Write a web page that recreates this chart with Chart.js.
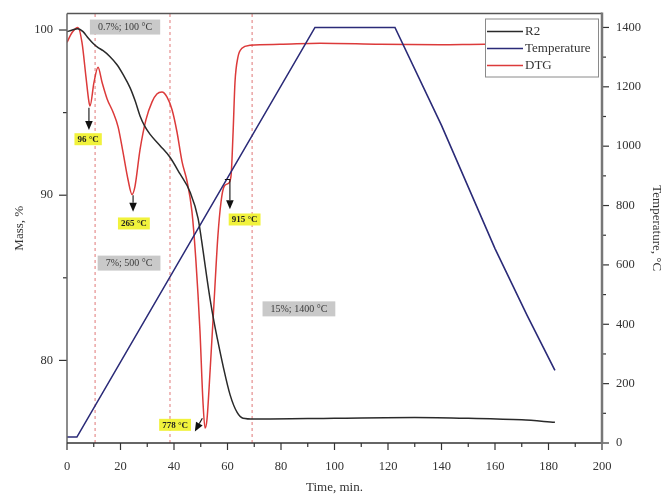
<!DOCTYPE html>
<html>
<head>
<meta charset="utf-8">
<script src="https://cdn.jsdelivr.net/npm/chart.js@4/dist/chart.umd.min.js"></script>
<style>
  html, body { margin: 0; padding: 0; background: #ffffff; }
  #wrap { width: 664px; height: 501px; }
</style>
</head>
<body>
<div id="wrap"><canvas id="c" width="664" height="501"></canvas></div>
<script>
// Thermogravimetric run of sample R2: residual mass, furnace temperature and DTG against time.

// Residual mass, %
const massTime   = [0, 2, 4, 6, 8, 9.7, 11.5, 13.5, 16, 18.7, 21, 23.6, 25.5, 27.3, 29, 31, 34.8, 38.5, 42.2, 46, 49, 50.9, 52.2, 53.5, 55, 56.1, 58.3, 61, 63.6, 65.8, 70, 100, 130, 150, 170, 182.4];
const massValues = [99.9, 100.0, 100.08, 99.9, 99.5, 99.2, 98.95, 98.75, 98.4, 97.9, 97.3, 96.5, 95.7, 94.8, 94.2, 93.7, 93.0, 92.3, 91.3, 90.2, 88.6, 86.6, 85.1, 83.7, 82.3, 81.4, 79.7, 77.9, 76.85, 76.5, 76.45, 76.5, 76.55, 76.5, 76.4, 76.25];

// Furnace temperature, °C
const tempTime   = [0, 3.7, 92.7, 122.6, 140, 160, 172, 182.4];
const tempValues = [20, 20, 1400, 1400, 1070, 655, 430, 245];

// Mass-loss rate (DTG), %/min
const dtgTime   = [0, 1.9, 4.1, 5.6, 7.1, 8.2, 8.6, 10.1, 11.6, 13.1, 15.0, 17.2, 19.1, 20.9, 22.8, 24.3, 25.4, 27.3, 29.5, 31.8, 33.6, 35.5, 37.4, 39.3, 41.1, 43.0, 44.9, 46.7, 48.2, 49.7, 50.8, 51.6, 52.3, 53.5, 55.0, 56.4, 57.6, 58.7, 60.2, 61.3, 62.1, 62.8, 63.9, 65.4, 68.4, 79.6, 94.6, 117, 139.4, 156.3, 182.4];
const dtgValues = [-0.014, 0.025, 0.045, -0.014, -0.152, -0.250, -0.266, -0.172, -0.113, -0.172, -0.238, -0.290, -0.349, -0.447, -0.557, -0.616, -0.585, -0.439, -0.321, -0.250, -0.219, -0.211, -0.231, -0.282, -0.368, -0.486, -0.565, -0.683, -0.880, -1.155, -1.431, -1.541, -1.510, -1.313, -1.037, -0.782, -0.644, -0.585, -0.573, -0.545, -0.368, -0.172, -0.073, -0.038, -0.026, -0.022, -0.018, -0.022, -0.024, -0.022, -0.024];

// Stage boundaries and their captions
const stageTimes  = [10.5, 38.5, 69.2];
const stageLabels = ['0.7%; 100 °C', '7%; 500 °C', '15%; 1400 °C'];

// DTG peak captions
const peakLabels = ['96 °C', '265 °C', '778 °C', '915 °C'];

// Tick labels
const timeTicks = [0, 20, 40, 60, 80, 100, 120, 140, 160, 180, 200];
const massTicks = [80, 90, 100];
const tempTicks = [0, 200, 400, 600, 800, 1000, 1200, 1400];

// Where captions sit, in (time, mass %) units
const stageBoxAt = [[21.7, 100.18], [23.2, 85.89], [86.7, 83.12]];
const peakMarks = [
  { arrow: [[8.2, 95.3], [8.2, 93.95]],               box: [7.9, 93.39] },
  { arrow: [[24.7, 90.0], [24.7, 89.0]],              box: [25.0, 88.29] },
  { arrow: [[50.6, 76.5], [47.8, 75.7]],              box: [40.4, 76.1] },
  { arrow: [[59.0, 90.95], [60.9, 90.95], [60.9, 89.15]], box: [66.4, 88.53] }
];

const SERIF = '"Liberation Serif", "Times New Roman", serif';
const INK = '#333333';

const stageLineSets = stageTimes.map(t => ({
  label: '',
  data: [{ x: t, y: 75 }, { x: t, y: 101 }],
  yAxisID: 'yMass',
  borderColor: 'rgba(222, 110, 110, 0.85)',
  borderWidth: 1.1,
  borderDash: [3, 3],
  pointRadius: 0,
  inLegend: false
}));

const zip = (xs, ys) => xs.map((x, i) => ({ x, y: ys[i] }));

const datasets = [
  {
    label: 'R2',
    data: zip(massTime, massValues),
    yAxisID: 'yMass',
    borderColor: '#2a2a2a',
    borderWidth: 1.5,
    pointRadius: 0,
    cubicInterpolationMode: 'monotone',
    inLegend: true
  },
  {
    label: 'Temperature',
    data: zip(tempTime, tempValues),
    yAxisID: 'yTemp',
    borderColor: '#2b2b78',
    borderWidth: 1.6,
    pointRadius: 0,
    tension: 0,
    inLegend: true
  },
  {
    label: 'DTG',
    data: zip(dtgTime, dtgValues),
    yAxisID: 'yDtg',
    borderColor: '#dc3a3a',
    borderWidth: 1.5,
    pointRadius: 0,
    cubicInterpolationMode: 'monotone',
    inLegend: true
  },
  ...stageLineSets
];

// Outward tick marks (major + minor) and the frame round the plot area
const frameTicks = {
  id: 'frameTicks',
  afterDatasetsDraw(chart) {
    const { ctx, chartArea: a, scales } = chart;
    ctx.save();
    ctx.strokeStyle = INK;
    ctx.lineWidth = 1.2;
    const tick = (x1, y1, x2, y2) => { ctx.beginPath(); ctx.moveTo(x1, y1); ctx.lineTo(x2, y2); ctx.stroke(); };
    for (let v = 0; v <= 200; v += 10) {
      const p = scales.x.getPixelForValue(v);
      tick(p, a.bottom, p, a.bottom + (v % 20 === 0 ? 7 : 4));
    }
    for (let v = 80; v <= 100; v += 5) {
      const p = scales.yMass.getPixelForValue(v);
      tick(a.left, p, a.left - (v % 10 === 0 ? 8 : 4), p);
    }
    for (let v = 0; v <= 1400; v += 100) {
      const p = scales.yTemp.getPixelForValue(v);
      tick(a.right, p, a.right + (v % 200 === 0 ? 7 : 4), p);
    }
    // frame
    ctx.strokeStyle = '#555555';
    ctx.lineWidth = 1.5;
    tick(a.left, a.top, a.right, a.top);
    ctx.strokeStyle = '#666666';
    tick(a.left, a.top, a.left, a.bottom);
    ctx.strokeStyle = '#333333';
    tick(a.left, a.bottom, a.right, a.bottom);
    ctx.strokeStyle = '#777777';
    ctx.lineWidth = 2.5;
    tick(a.right, a.top - 1, a.right, a.bottom + 1);
    ctx.restore();
  }
};

// Stage captions, peak arrows and peak captions
const captions = {
  id: 'captions',
  afterDatasetsDraw(chart) {
    const { ctx, scales } = chart;
    const X = t => scales.x.getPixelForValue(t);
    const Y = m => scales.yMass.getPixelForValue(m);
    ctx.save();
    ctx.textAlign = 'center';
    ctx.textBaseline = 'middle';

    // grey stage boxes
    ctx.font = '10px ' + SERIF;
    stageLabels.forEach((txt, i) => {
      const cx = X(stageBoxAt[i][0]), cy = Y(stageBoxAt[i][1]);
      const w = ctx.measureText(txt).width + 16, h = 15;
      ctx.fillStyle = '#c9c9c9';
      ctx.fillRect(cx - w / 2, cy - h / 2, w, h);
      ctx.fillStyle = '#3a3a3a';
      ctx.fillText(txt, cx, cy + 0.5);
    });

    // arrows
    peakMarks.forEach(m => {
      const pts = m.arrow.map(p => [X(p[0]), Y(p[1])]);
      const n = pts.length;
      const [tx, ty] = pts[n - 1];
      const [px, py] = pts[n - 2];
      const ang = Math.atan2(ty - py, tx - px);
      const hl = 9, hw = 3.8;
      const bx = tx - hl * Math.cos(ang), by = ty - hl * Math.sin(ang);
      ctx.strokeStyle = '#111111';
      ctx.lineWidth = 1.1;
      ctx.beginPath();
      ctx.moveTo(pts[0][0], pts[0][1]);
      for (let k = 1; k < n - 1; k++) ctx.lineTo(pts[k][0], pts[k][1]);
      ctx.lineTo(bx, by);
      ctx.stroke();
      ctx.fillStyle = '#111111';
      ctx.beginPath();
      ctx.moveTo(tx, ty);
      ctx.lineTo(bx + hw * Math.sin(ang), by - hw * Math.cos(ang));
      ctx.lineTo(bx - hw * Math.sin(ang), by + hw * Math.cos(ang));
      ctx.closePath();
      ctx.fill();
    });

    // yellow peak captions
    ctx.font = 'bold 9px ' + SERIF;
    peakLabels.forEach((txt, i) => {
      const cx = X(peakMarks[i].box[0]), cy = Y(peakMarks[i].box[1]);
      const w = ctx.measureText(txt).width + 6, h = 12;
      ctx.fillStyle = '#f1f23c';
      ctx.fillRect(cx - w / 2, cy - h / 2, w, h);
      ctx.fillStyle = '#222222';
      ctx.fillText(txt, cx, cy + 0.5);
    });
    ctx.restore();
  }
};

// Boxed legend in the upper right corner of the plot
const boxLegend = {
  id: 'boxLegend',
  afterDraw(chart) {
    const { ctx, chartArea: a } = chart;
    const items = chart.data.datasets.filter(d => d.inLegend);
    const w = 113, h = 58;
    const x0 = a.right - 4 - w, y0 = a.top + 5;
    ctx.save();
    ctx.fillStyle = '#ffffff';
    ctx.fillRect(x0, y0, w, h);
    ctx.strokeStyle = '#8a8a8a';
    ctx.lineWidth = 1;
    ctx.strokeRect(x0 + 0.5, y0 + 0.5, w, h);
    ctx.font = '13px ' + SERIF;
    ctx.textBaseline = 'middle';
    ctx.textAlign = 'left';
    items.forEach((d, i) => {
      const yy = y0 + 13 + i * 17;
      ctx.strokeStyle = d.borderColor;
      ctx.lineWidth = 1.6;
      ctx.beginPath();
      ctx.moveTo(x0 + 2, yy);
      ctx.lineTo(x0 + 38, yy);
      ctx.stroke();
      ctx.fillStyle = INK;
      ctx.fillText(d.label, x0 + 40, yy + 0.5);
    });
    ctx.restore();
  }
};

const tickFont = { family: SERIF, size: 12.5 };
const titleFont = { family: SERIF, size: 13 };
const plain = v => String(v);

new Chart(document.getElementById('c'), {
  type: 'line',
  data: { datasets },
  options: {
    responsive: false,
    devicePixelRatio: 1,
    animation: false,
    layout: { padding: { top: 11, left: 0, right: 0, bottom: 0 } },
    plugins: { legend: { display: false }, tooltip: { enabled: false } },
    scales: {
      x: {
        type: 'linear', min: 0, max: 200,
        afterBuildTicks: s => { s.ticks = timeTicks.map(v => ({ value: v })); },
        afterFit: s => { s.height = 58; },
        grid: { display: false }, border: { display: false },
        ticks: { font: tickFont, color: INK, padding: 8, maxRotation: 0, callback: plain },
        title: { display: true, text: 'Time, min.', font: titleFont, color: INK, padding: { top: 0, bottom: 6 } }
      },
      yMass: {
        type: 'linear', position: 'left', min: 75, max: 101,
        afterBuildTicks: s => { s.ticks = massTicks.map(v => ({ value: v })); },
        afterFit: s => { s.width = 67; },
        grid: { display: false }, border: { display: false },
        ticks: { font: tickFont, color: INK, padding: 6, callback: plain },
        title: { display: true, text: 'Mass, %', font: titleFont, color: INK, padding: { top: 12, bottom: 0 } }
      },
      yTemp: {
        type: 'linear', position: 'right', min: 0, max: 1447,
        afterBuildTicks: s => { s.ticks = tempTicks.map(v => ({ value: v })); },
        afterFit: s => { s.width = 62; },
        grid: { display: false }, border: { display: false },
        ticks: { font: tickFont, color: INK, padding: 6, callback: plain },
        title: { display: true, text: 'Temperature, °C', font: titleFont, color: INK, padding: { top: 0, bottom: 0 } }
      },
      yDtg: {
        type: 'linear', display: false, min: -1.6, max: 0.1
      }
    }
  },
  plugins: [frameTicks, captions, boxLegend]
});
</script>
</body>
</html>
